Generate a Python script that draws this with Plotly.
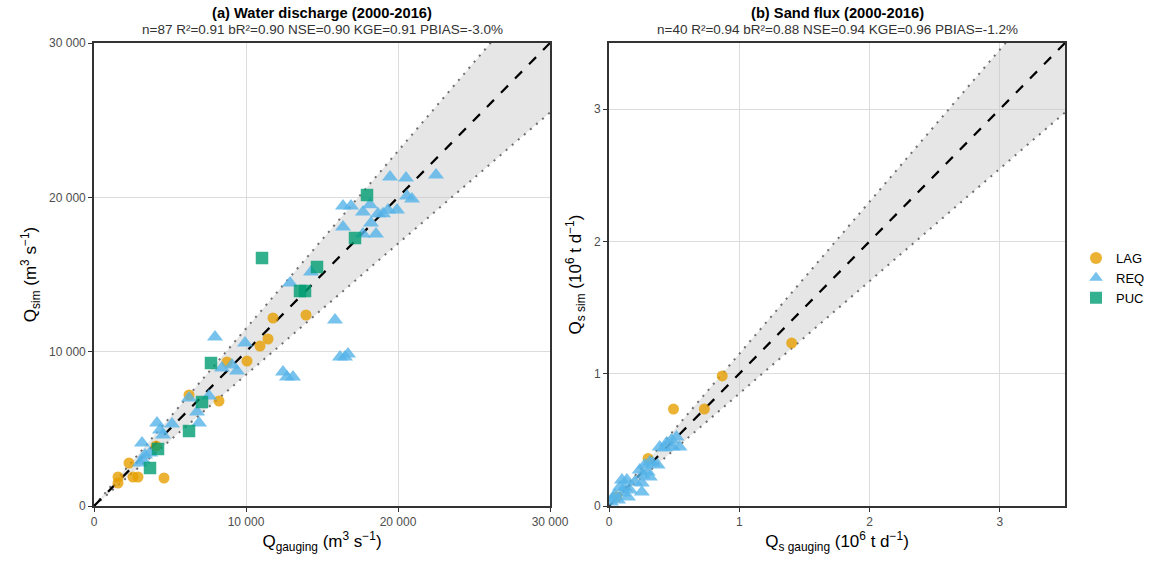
import plotly.graph_objects as go

# ---------------- Data: panel (a) water discharge (m3/s) ----------------
lag_a_obs = [1579, 1579, 2303, 2566, 2895, 4605, 4079, 6250, 8224, 8750, 10066, 10921, 11447, 11776, 13947]
lag_a_sim = [1879, 1490, 2786, 1879, 1879, 1814, 3887, 7192, 6803, 9330, 9394, 10366, 10820, 12181, 12375]

req_a_obs = [19474, 20526, 22500, 16382, 16908, 18158, 20592, 20921, 17697, 18684, 19013, 19934, 19342,
             16382, 18224, 17697, 18553, 14276, 12895, 15855, 16184, 16513, 16711, 12434, 12697, 13092,
             7961, 9934, 8421, 9079, 9408, 6250, 7566, 6776, 6908, 4145, 5132, 4540, 4342, 3158, 3355,
             3684, 3026, 3224]
req_a_sim = [21316, 21251, 21445, 19437, 19437, 19525, 20085, 19891, 19048, 18941, 18941, 19178, 19178,
             18076, 18335, 17623, 17623, 15161, 14448, 12051, 9654, 9654, 9848, 8682, 8358, 8358,
             10950, 10561, 8941, 9135, 8747, 6997, 7127, 6090, 5378, 5378, 5313, 4600, 4924, 4082, 3304,
             3434, 2786, 2980]

puc_a_obs = [17961, 11053, 17171, 14671, 13553, 13882, 7697, 7105, 6250, 4211, 3684]
puc_a_sim = [20150, 16068, 17364, 15485, 13930, 13930, 9265, 6738, 4859, 3693, 2462]

# ---------------- Data: panel (b) sand flux (10^6 t/d) ----------------
lag_b_obs = [0.495, 0.732, 0.869, 1.402, 0.06, 0.30]
lag_b_sim = [0.733, 0.733, 0.983, 1.232, 0.07, 0.36]

req_b_obs = [0.518, 0.480, 0.442, 0.389, 0.541, 0.488, 0.427, 0.335, 0.313, 0.274, 0.373, 0.297, 0.236,
             0.259, 0.313, 0.252, 0.198, 0.137, 0.099, 0.084, 0.107, 0.160, 0.252, 0.046, 0.030, 0.069,
             0.145, 0.015, 0.12]
req_b_sim = [0.522, 0.499, 0.476, 0.446, 0.446, 0.446, 0.438, 0.325, 0.333, 0.310, 0.310, 0.257, 0.272,
             0.234, 0.219, 0.174, 0.181, 0.197, 0.197, 0.144, 0.098, 0.121, 0.106, 0.083, 0.060, 0.045,
             0.068, 0.03, 0.14]

a_max = 30000
b_max = 3.5
band_low = 0.85
band_high = 1.15

a_ticks = [0, 10000, 20000, 30000]
b_ticks = [0, 1, 2, 3]

title_a = "<b>(a) Water discharge (2000-2016)</b>"
sub_a = "n=87 R²=0.91 bR²=0.90 NSE=0.90 KGE=0.91 PBIAS=-3.0%"
title_b = "<b>(b) Sand flux (2000-2016)</b>"
sub_b = "n=40 R²=0.94 bR²=0.88 NSE=0.94 KGE=0.96 PBIAS=-1.2%"

COL = {"LAG": "#E69F00", "REQ": "#56B4E9", "PUC": "#009E73"}
SYM = {"LAG": "circle", "REQ": "triangle-up", "PUC": "square"}
SIZE = {"LAG": 11, "REQ": 14, "PUC": 12.5}

fig = go.Figure()

def add_band(xa, ya, vmax):
    xs = [0, vmax]
    fig.add_trace(go.Scatter(x=xs, y=[0, band_low * vmax], mode="lines", xaxis=xa, yaxis=ya,
                             line=dict(color="#6e6e6e", width=2, dash="2px,6px"), showlegend=False,
                             hoverinfo="skip"))
    fig.add_trace(go.Scatter(x=xs, y=[0, band_high * vmax], mode="lines", xaxis=xa, yaxis=ya,
                             fill="tonexty", fillcolor="rgba(200,200,200,0.45)",
                             line=dict(color="#6e6e6e", width=2, dash="2px,6px"), showlegend=False,
                             hoverinfo="skip"))
    fig.add_trace(go.Scatter(x=xs, y=xs, mode="lines", xaxis=xa, yaxis=ya,
                             line=dict(color="black", width=2.2, dash="10px,10px"), showlegend=False,
                             hoverinfo="skip"))

def add_pts(name, xs, ys, xa, ya, legend):
    fig.add_trace(go.Scatter(x=xs, y=ys, mode="markers", name=name, xaxis=xa, yaxis=ya,
                             legendgroup=name, showlegend=legend,
                             marker=dict(symbol=SYM[name], size=SIZE[name], color=COL[name],
                                         opacity=0.8, line=dict(width=0))))

add_band("x", "y", a_max)
add_pts("LAG", lag_a_obs, lag_a_sim, "x", "y", True)
add_pts("REQ", req_a_obs, req_a_sim, "x", "y", True)
add_pts("PUC", puc_a_obs, puc_a_sim, "x", "y", True)

add_band("x2", "y2", b_max)
add_pts("LAG", lag_b_obs, lag_b_sim, "x2", "y2", False)
add_pts("REQ", req_b_obs, req_b_sim, "x2", "y2", False)

ax_common = dict(showline=True, linecolor="#333333", linewidth=1.6, mirror=True,
                 showgrid=True, gridcolor="#dcdcdc", gridwidth=1.4, zeroline=False,
                 ticks="outside", ticklen=4, tickcolor="#333333", automargin=False,
                 tickfont=dict(family="Liberation Sans, Arial", size=12, color="#4d4d4d"))

fig.update_layout(
    template="none",
    width=1162, height=561,
    margin=dict(l=0, r=0, t=0, b=0, pad=0, autoexpand=False),
    paper_bgcolor="white", plot_bgcolor="white",
    separators=". ",
    font=dict(family="Liberation Sans, Arial", color="black"),
    xaxis=dict(domain=[94 / 1162, 550 / 1162], range=[0, a_max], tickvals=a_ticks, tickformat=",",
               anchor="y",
               title=dict(text="Q<sub>gauging</sub> (m<sup>3</sup> s<sup>−1</sup>)",
                          font=dict(size=17), standoff=6), **ax_common),
    yaxis=dict(domain=[1 - 506 / 561, 1 - 43 / 561], range=[0, a_max], tickvals=a_ticks, tickformat=",",
               anchor="x",
               title=dict(text="Q<sub>sim</sub> (m<sup>3</sup> s<sup>−1</sup>)",
                          font=dict(size=17), standoff=8), **ax_common),
    xaxis2=dict(domain=[609 / 1162, 1065 / 1162], range=[0, b_max], tickvals=b_ticks, anchor="y2",
                title=dict(text="Q<sub>s gauging</sub> (10<sup>6</sup> t d<sup>−1</sup>)",
                           font=dict(size=17), standoff=6), **ax_common),
    yaxis2=dict(domain=[1 - 506 / 561, 1 - 43 / 561], range=[0, b_max], tickvals=b_ticks, anchor="x2",
                title=dict(text="Q<sub>s sim</sub> (10<sup>6</sup> t d<sup>−1</sup>)",
                           font=dict(size=17), standoff=8), **ax_common),
    legend=dict(x=1076 / 1162, y=1 - 278 / 561, xanchor="left", yanchor="middle",
                font=dict(size=13, color="black"), bgcolor="rgba(0,0,0,0)",
                itemsizing="constant", tracegroupgap=0),
    showlegend=True,
)

for xc, t, s in [((94 + 550) / 2 / 1162, title_a, sub_a), ((609 + 1065) / 2 / 1162, title_b, sub_b)]:
    fig.add_annotation(x=xc, y=1 - 13 / 561, xref="paper", yref="paper", text=t, showarrow=False,
                       font=dict(size=14.7, color="black"), xanchor="center", yanchor="middle")
    fig.add_annotation(x=xc, y=1 - 30 / 561, xref="paper", yref="paper", text=s, showarrow=False,
                       font=dict(size=13.5, color="#333333"), xanchor="center", yanchor="middle")

fig.write_html("out.html")
